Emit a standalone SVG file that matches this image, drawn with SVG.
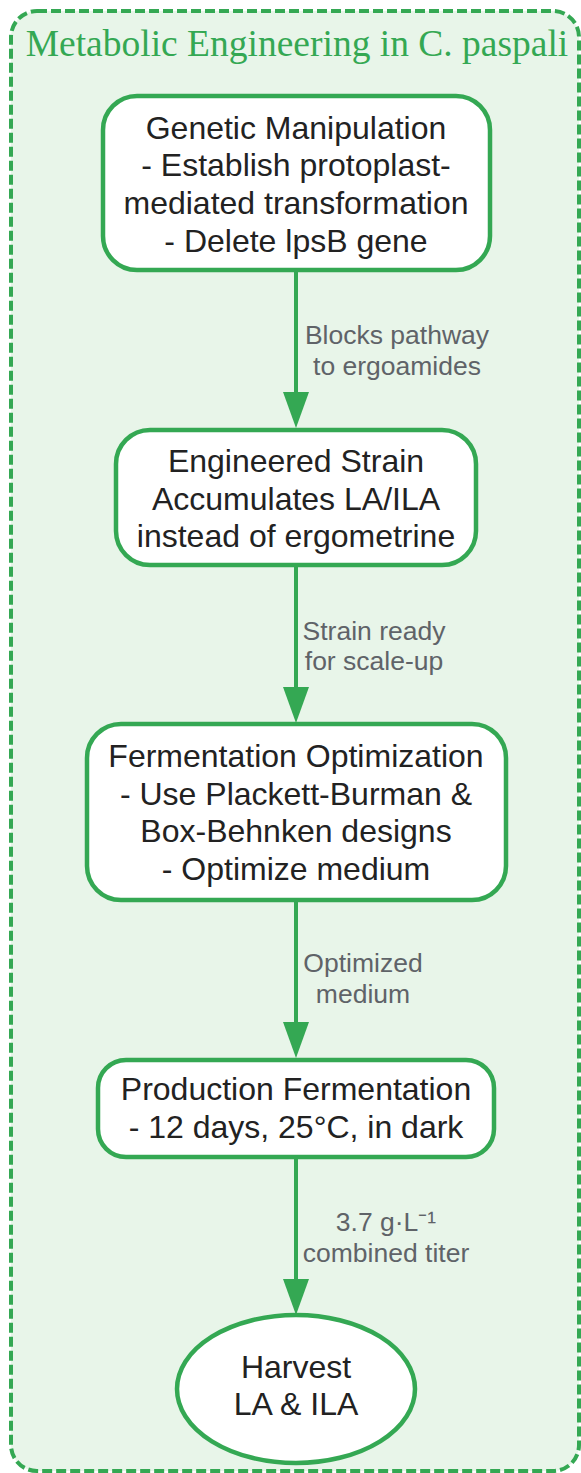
<svg xmlns="http://www.w3.org/2000/svg" width="581" height="1473" viewBox="0 0 581 1473">
<style>
.cluster{fill:#e8f5e9;stroke:#34a853;stroke-width:4;stroke-dasharray:10,4}
.title{font-family:"Liberation Serif",serif;font-size:37.5px;fill:#34a853;text-anchor:middle}
.node{fill:#ffffff;stroke:#34a853;stroke-width:4.5}
.nt{font-family:"Liberation Sans",Arial,sans-serif;font-size:32px;fill:#222222;text-anchor:middle}
.edge{stroke:#34a853;stroke-width:4;fill:none}
.el{font-family:"Liberation Sans",Arial,sans-serif;font-size:26.5px;fill:#5f6368;text-anchor:middle}
</style>
<defs>
<marker id="ah" markerUnits="userSpaceOnUse" markerWidth="36" markerHeight="26" viewBox="0 0 36 26" refX="0" refY="13" orient="auto">
<path d="M0,0 L36,13 L0,26 Z" fill="#34a853"/>
</marker>
</defs>
<g id="cluster">
<rect class="cluster" x="11" y="11" width="568" height="1460" rx="26" ry="26"/>
<text class="title" x="297" y="56">Metabolic Engineering in C. paspali</text>
</g>
<g id="connectors">
<line class="edge" x1="296" y1="270" x2="296" y2="392" marker-end="url(#ah)"/>
<text class="el" x="397" y="344">Blocks pathway</text>
<text class="el" x="397" y="375">to ergoamides</text>
<line class="edge" x1="296" y1="565" x2="296" y2="687" marker-end="url(#ah)"/>
<text class="el" x="374" y="640">Strain ready</text>
<text class="el" x="374" y="670">for scale-up</text>
<line class="edge" x1="296" y1="900" x2="296" y2="1022" marker-end="url(#ah)"/>
<text class="el" x="363" y="972">Optimized</text>
<text class="el" x="363" y="1003">medium</text>
<line class="edge" x1="296" y1="1157" x2="296" y2="1279" marker-end="url(#ah)"/>
<text class="el" x="386" y="1231">3.7 g·L⁻¹</text>
<text class="el" x="386" y="1262">combined titer</text>
</g>
<g id="genetic">
<rect class="node" x="103" y="96" width="387" height="174" rx="34" ry="34"/>
<text class="nt" x="296" y="139">Genetic Manipulation</text>
<text class="nt" x="296" y="176">- Establish protoplast-</text>
<text class="nt" x="296" y="214">mediated transformation</text>
<text class="nt" x="296" y="252">- Delete lpsB gene</text>
</g>
<g id="strain">
<rect class="node" x="116" y="430" width="360" height="135" rx="34" ry="34"/>
<text class="nt" x="296" y="472">Engineered Strain</text>
<text class="nt" x="296" y="510">Accumulates LA/ILA</text>
<text class="nt" x="296" y="547">instead of ergometrine</text>
</g>
<g id="optimization">
<rect class="node" x="87" y="724" width="419" height="176" rx="34" ry="34"/>
<text class="nt" x="296" y="767">Fermentation Optimization</text>
<text class="nt" x="296" y="805">- Use Plackett-Burman &amp;</text>
<text class="nt" x="296" y="842">Box-Behnken designs</text>
<text class="nt" x="296" y="880">- Optimize medium</text>
</g>
<g id="production">
<rect class="node" x="98" y="1060" width="396" height="97" rx="28" ry="28"/>
<text class="nt" x="296" y="1100">Production Fermentation</text>
<text class="nt" x="296" y="1138">- 12 days, 25°C, in dark</text>
</g>
<g id="harvest">
<ellipse class="node" cx="296" cy="1389" rx="119" ry="74"/>
<text class="nt" x="296" y="1378">Harvest</text>
<text class="nt" x="296" y="1415">LA &amp; ILA</text>
</g>
</svg>
